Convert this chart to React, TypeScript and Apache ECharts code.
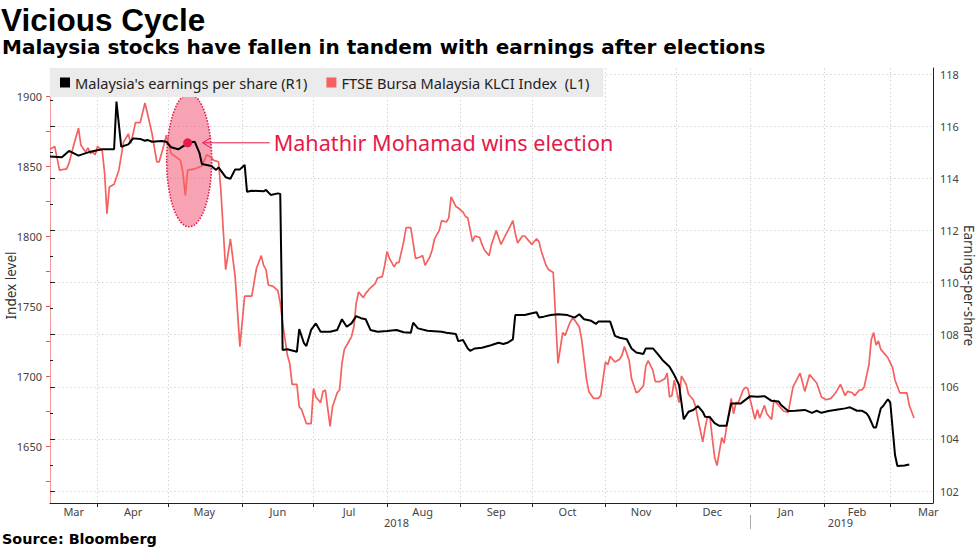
import React, { useEffect, useRef } from 'react';
import * as echarts from 'echarts';

// ---------- data ----------
const epsName = "Malaysia's earnings per share (R1)";
const klciName = 'FTSE Bursa Malaysia KLCI Index  (L1)';

const epsDates = [
  '2018-03-12','2018-03-17','2018-03-20','2018-03-24','2018-03-29','2018-04-03','2018-04-08','2018-04-09','2018-04-11','2018-04-14',
  '2018-04-16','2018-04-19','2018-04-21','2018-04-22','2018-04-24','2018-04-28','2018-04-30','2018-05-02','2018-05-05','2018-05-08',
  '2018-05-09','2018-05-12','2018-05-14','2018-05-15','2018-05-19','2018-05-21','2018-05-22','2018-05-25','2018-05-27','2018-05-29',
  '2018-05-31','2018-06-02','2018-06-03','2018-06-05','2018-06-10','2018-06-11','2018-06-13','2018-06-16','2018-06-17','2018-06-18',
  '2018-06-20','2018-06-24','2018-06-25','2018-06-27','2018-06-28','2018-06-30','2018-07-02','2018-07-04','2018-07-08','2018-07-11',
  '2018-07-13','2018-07-15','2018-07-17','2018-07-19','2018-07-21','2018-07-23','2018-07-25','2018-07-28','2018-08-01','2018-08-05',
  '2018-08-08','2018-08-11','2018-08-12','2018-08-14','2018-08-18','2018-08-24','2018-08-26','2018-08-30','2018-08-31','2018-09-02',
  '2018-09-04','2018-09-05','2018-09-07','2018-09-10','2018-09-13','2018-09-15','2018-09-17','2018-09-19','2018-09-21','2018-09-23',
  '2018-09-24','2018-09-28','2018-10-01','2018-10-03','2018-10-04','2018-10-06','2018-10-09','2018-10-12','2018-10-16','2018-10-19',
  '2018-10-21','2018-10-23','2018-10-26','2018-10-28','2018-10-29','2018-11-03','2018-11-05','2018-11-07','2018-11-10','2018-11-12',
  '2018-11-14','2018-11-17','2018-11-18','2018-11-21','2018-11-23','2018-11-25','2018-11-28','2018-11-30','2018-12-02','2018-12-04',
  '2018-12-06','2018-12-08','2018-12-10','2018-12-12','2018-12-13','2018-12-15','2018-12-17','2018-12-19','2018-12-22','2018-12-24',
  '2018-12-28','2018-12-29','2019-01-01','2019-01-04','2019-01-07','2019-01-10','2019-01-13','2019-01-14','2019-01-17','2019-01-20',
  '2019-01-24','2019-01-27','2019-01-29','2019-01-31','2019-02-03','2019-02-07','2019-02-10','2019-02-12','2019-02-15','2019-02-17',
  '2019-02-19','2019-02-20','2019-02-22','2019-02-23','2019-02-25','2019-02-26','2019-02-28','2019-03-01','2019-03-03','2019-03-04',
  '2019-03-07','2019-03-09',
];
const epsValues = [
  114.83,114.81,115.05,114.87,115.02,115.11,115.11,116.94,115.21,115.30,
  115.53,115.51,115.44,115.47,115.40,115.43,115.40,115.19,115.11,115.28,
  115.36,115.40,114.96,114.55,114.47,114.32,114.42,114.04,113.98,114.34,
  114.34,114.51,113.48,113.52,113.50,113.55,113.36,113.42,113.40,107.41,
  107.44,107.34,108.21,107.67,107.56,108.18,108.43,108.11,108.11,108.18,
  108.59,108.30,108.43,108.71,108.63,108.59,108.18,108.11,108.14,108.18,
  108.09,108.07,108.46,108.24,108.15,108.11,108.07,108.02,107.75,107.79,
  107.47,107.38,107.47,107.50,107.57,107.63,107.69,107.64,107.70,107.82,
  108.75,108.75,108.82,108.86,108.66,108.69,108.75,108.78,108.75,108.65,
  108.78,108.59,108.53,108.41,108.50,108.50,107.95,107.88,107.82,107.47,
  107.31,107.26,107.47,107.47,107.26,107.03,106.77,106.45,106.07,104.75,
  105.04,105.11,105.26,105.04,104.85,104.83,104.60,104.50,104.50,105.36,
  105.36,105.43,105.64,105.62,105.64,105.46,105.43,105.30,105.07,105.08,
  105.11,105.00,105.08,105.00,105.07,105.13,105.17,105.21,105.08,105.08,
  104.98,104.85,104.44,104.44,105.17,105.26,105.52,105.39,103.38,102.96,
  102.98,103.02,
];

const klciDates = [
  '2018-03-12','2018-03-14','2018-03-16','2018-03-19','2018-03-20','2018-03-22','2018-03-24','2018-03-25','2018-03-27','2018-03-28',
  '2018-03-29','2018-03-30','2018-03-31','2018-04-01','2018-04-03','2018-04-04','2018-04-05','2018-04-06','2018-04-08','2018-04-10',
  '2018-04-11','2018-04-12','2018-04-14','2018-04-15','2018-04-16','2018-04-17','2018-04-19','2018-04-21','2018-04-22','2018-04-24',
  '2018-04-26','2018-04-27','2018-04-29','2018-04-30','2018-05-02','2018-05-06','2018-05-07','2018-05-08','2018-05-09','2018-05-12',
  '2018-05-15','2018-05-17','2018-05-19','2018-05-20','2018-05-22','2018-05-23','2018-05-24','2018-05-25','2018-05-27','2018-05-29',
  '2018-05-31','2018-06-02','2018-06-05','2018-06-07','2018-06-09','2018-06-10','2018-06-11','2018-06-12','2018-06-14','2018-06-16',
  '2018-06-17','2018-06-18','2018-06-20','2018-06-21','2018-06-22','2018-06-24','2018-06-25','2018-06-26','2018-06-28','2018-06-30',
  '2018-07-01','2018-07-02','2018-07-04','2018-07-05','2018-07-06','2018-07-08','2018-07-09','2018-07-11','2018-07-12','2018-07-13',
  '2018-07-14','2018-07-16','2018-07-17','2018-07-18','2018-07-19','2018-07-20','2018-07-22','2018-07-23','2018-07-25','2018-07-27',
  '2018-07-28','2018-07-30','2018-07-31','2018-08-01','2018-08-02','2018-08-04','2018-08-05','2018-08-06','2018-08-08','2018-08-09',
  '2018-08-11','2018-08-13','2018-08-15','2018-08-16','2018-08-17','2018-08-19','2018-08-20','2018-08-21','2018-08-23','2018-08-24',
  '2018-08-26','2018-08-27','2018-08-28','2018-08-30','2018-08-31','2018-09-02','2018-09-03','2018-09-04','2018-09-06','2018-09-07',
  '2018-09-09','2018-09-10','2018-09-11','2018-09-13','2018-09-14','2018-09-16','2018-09-17','2018-09-18','2018-09-20','2018-09-21',
  '2018-09-23','2018-09-24','2018-09-25','2018-09-27','2018-09-28','2018-09-30','2018-10-01','2018-10-03','2018-10-04','2018-10-05',
  '2018-10-07','2018-10-08','2018-10-10','2018-10-11','2018-10-12','2018-10-14','2018-10-15','2018-10-17','2018-10-18','2018-10-19',
  '2018-10-21','2018-10-22','2018-10-24','2018-10-25','2018-10-27','2018-10-29','2018-10-30','2018-11-01','2018-11-02','2018-11-03',
  '2018-11-05','2018-11-07','2018-11-08','2018-11-09','2018-11-11','2018-11-12','2018-11-14','2018-11-15','2018-11-17','2018-11-18',
  '2018-11-19','2018-11-21','2018-11-22','2018-11-24','2018-11-26','2018-11-27','2018-11-28','2018-11-29','2018-11-30','2018-12-02',
  '2018-12-03','2018-12-05','2018-12-06','2018-12-08','2018-12-09','2018-12-10','2018-12-12','2018-12-13','2018-12-14','2018-12-15',
  '2018-12-16','2018-12-17','2018-12-18','2018-12-20','2018-12-21','2018-12-22','2018-12-24','2018-12-25','2018-12-26','2018-12-27',
  '2018-12-29','2018-12-30','2018-12-31','2019-01-01','2019-01-03','2019-01-04','2019-01-05','2019-01-07','2019-01-08','2019-01-10',
  '2019-01-11','2019-01-12','2019-01-14','2019-01-15','2019-01-17','2019-01-19','2019-01-22','2019-01-24','2019-01-26','2019-01-29',
  '2019-01-31','2019-02-02','2019-02-04','2019-02-06','2019-02-08','2019-02-10','2019-02-11','2019-02-13','2019-02-14','2019-02-16',
  '2019-02-17','2019-02-18','2019-02-20','2019-02-21','2019-02-22','2019-02-23','2019-02-24','2019-02-25','2019-02-28','2019-03-02',
  '2019-03-03','2019-03-05','2019-03-08','2019-03-09','2019-03-11',
];
const klciValues = [
  1862,1864,1847,1848,1852,1865,1877,1865,1860,1863,
  1859,1860,1858,1864,1861,1845,1816,1835,1837,1847,
  1857,1867,1873,1866,1873,1881,1881,1895,1888,1873,
  1853,1853,1865,1872,1859,1854,1845,1829,1847,1848,
  1850,1858,1856,1854,1853,1832,1804,1776,1798,1771,
  1721,1757,1757,1777,1786,1779,1776,1765,1764,1761,
  1752,1738,1715,1709,1694,1694,1678,1676,1666,1666,
  1691,1685,1681,1689,1690,1664,1678,1688,1690,1709,
  1719,1725,1728,1735,1752,1760,1756,1759,1763,1766,
  1770,1771,1779,1789,1784,1778,1781,1781,1796,1806,
  1806,1784,1785,1786,1779,1785,1790,1798,1804,1811,
  1810,1813,1828,1821,1820,1817,1814,1813,1796,1800,
  1799,1794,1790,1786,1794,1804,1799,1794,1801,1804,
  1811,1802,1795,1800,1800,1796,1794,1798,1796,1789,
  1779,1776,1774,1742,1709,1731,1729,1738,1741,1740,
  1735,1726,1698,1689,1684,1684,1686,1710,1708,1714,
  1710,1712,1715,1721,1711,1698,1688,1689,1693,1707,
  1711,1704,1696,1696,1698,1702,1685,1686,1697,1681,
  1700,1694,1687,1683,1678,1669,1653,1663,1671,1671,
  1656,1642,1636,1656,1652,1663,1684,1673,1681,1681,
  1690,1692,1691,1683,1669,1676,1670,1679,1673,1669,
  1683,1681,1677,1675,1674,1692,1702,1689,1701,1695,
  1685,1683,1684,1688,1694,1686,1689,1688,1686,1690,
  1690,1692,1708,1726,1731,1722,1725,1719,1713,1706,
  1697,1688,1688,1679,1670,
];

// axis domain and tick labels
const firstDay = '2018-03-12';
const lastDay = '2019-03-19';
const monthLabelDates = ['2018-03-22','2018-04-16','2018-05-16','2018-06-16','2018-07-16','2018-08-16','2018-09-16','2018-10-16','2018-11-16','2018-12-16','2019-01-16','2019-02-15','2019-03-17'];
const monthLabels = ['Mar','Apr','May','Jun','Jul','Aug','Sep','Oct','Nov','Dec','Jan','Feb','Mar'];
const yearLabelDates = ['2018-08-05','2019-02-08'];
const yearLabels = ['2018','2019'];
const yearBreakDate = '2019-01-01';
const leftTickValues = { min: 1625, max: 1900, step: 25, labelStep: 50 };
const rightTickValues = { min: 102, max: 118, step: 2 };

const electionDate = '2018-05-09';
const electionEps = 115.36;
const annotationText = 'Mahathir Mohamad wins election';

function buildDays(a: string, b: string): string[] {
  const out: string[] = [];
  let t = Date.parse(a + 'T00:00:00Z');
  const e = Date.parse(b + 'T00:00:00Z');
  while (t <= e) {
    out.push(new Date(t).toISOString().slice(0, 10));
    t += 86400000;
  }
  return out;
}
const days = buildDays(firstDay, lastDay);

// ---------- layout ----------
const W = 977;
const H = 549;
const PLOT_L = 50;
const PLOT_R = 933;
const PLOT_T = 68;
const PLOT_B = 503;
// pixel rows of the labelled ticks
const Y_1900 = 96, Y_1625 = 481;
const Y_118 = 74, Y_102 = 491;
const leftPxPerUnit = (Y_1625 - Y_1900) / (leftTickValues.max - leftTickValues.min);
const rightPxPerUnit = (Y_102 - Y_118) / (rightTickValues.max - rightTickValues.min);
const leftMin = leftTickValues.min - (PLOT_B - Y_1625) / leftPxPerUnit;
const leftMax = leftTickValues.max + (Y_1900 - PLOT_T) / leftPxPerUnit;
const rightMin = rightTickValues.min - (PLOT_B - Y_102) / rightPxPerUnit;
const rightMax = rightTickValues.max + (Y_118 - PLOT_T) / rightPxPerUnit;

const SANS = 'Noto Sans';
const BOLD = 'DejaVu Sans';
const RED = '#f4615f';
const ANNO = '#e5194a';
const GRID_LINE = '#d4d4d4';

export default function App() {
  const ref = useRef<HTMLDivElement>(null);
  useEffect(() => {
    const el = ref.current;
    if (!el) return;
    const chart = echarts.init(el, null, { renderer: 'svg' });
    const labelSet = new Set(monthLabelDates);
    const yearSet = new Set(yearLabelDates);
    const gridPos = { left: PLOT_L, right: W - PLOT_R, containLabel: false, outerBoundsMode: 'none' };
    const option: any = {
      animation: false,
      backgroundColor: '#fff',
      title: [
        { text: 'Vicious Cycle', left: 1, top: 4, padding: 0, textStyle: { fontFamily: 'Liberation Sans', fontWeight: 'bold', fontSize: 31.5, color: '#000' } },
        { text: 'Malaysia stocks have fallen in tandem with earnings after elections', left: 2, top: 37, padding: 0, textStyle: { fontFamily: BOLD, fontWeight: 'bold', fontSize: 20, color: '#000' } },
        { text: 'Source: Bloomberg', left: 2, top: 532, padding: 0, textStyle: { fontFamily: BOLD, fontWeight: 'bold', fontSize: 14.4, color: '#000' } },
      ],
      legend: {
        left: PLOT_L, top: PLOT_T,
        data: [epsName, klciName],
        icon: 'rect', itemWidth: 10, itemHeight: 10, itemGap: 19,
        backgroundColor: '#ebebeb',
        padding: [7, 14, 7, 10],
        textStyle: { fontFamily: SANS, fontSize: 14.6, color: '#222' },
        selectedMode: false,
      },
      grid: [
        { ...gridPos, top: PLOT_T, bottom: H - PLOT_B },
        { ...gridPos, top: Y_1900, bottom: H - Y_1625 },
        { ...gridPos, top: Y_118, bottom: H - Y_102 },
      ],
      xAxis: [
        {
          type: 'category', gridIndex: 0, data: days, boundaryGap: false, position: 'bottom',
          axisLine: { show: true, lineStyle: { color: '#222', width: 1 } },
          axisTick: { show: true, interval: (_i: number, v: string) => v.slice(8) === '01', length: 4, lineStyle: { color: '#222' } },
          axisLabel: {
            interval: (_i: number, v: string) => labelSet.has(v),
            formatter: (v: string) => monthLabels[monthLabelDates.indexOf(v)] ?? '',
            fontFamily: SANS, fontSize: 11, color: '#444', margin: 3,
          },
          splitLine: { show: true, interval: (_i: number, v: string) => v.slice(8) === '01', lineStyle: { color: GRID_LINE, type: [1.5, 2.5] } },
        },
        {
          type: 'category', gridIndex: 0, data: days, boundaryGap: false, position: 'bottom', offset: 12,
          axisLine: { show: false },
          axisTick: { show: true, interval: (_i: number, v: string) => v === yearBreakDate, length: 14, lineStyle: { color: '#aaa' } },
          axisLabel: {
            interval: (_i: number, v: string) => yearSet.has(v),
            formatter: (v: string) => yearLabels[yearLabelDates.indexOf(v)] ?? '',
            fontFamily: SANS, fontSize: 11, color: '#444', margin: 2,
          },
          splitLine: { show: false },
        },
        { type: 'value', gridIndex: 1, min: 0, max: 1, show: false },
        { type: 'value', gridIndex: 2, min: 0, max: 1, show: false },
      ],
      yAxis: [
        {
          type: 'value', gridIndex: 0, position: 'left', min: leftMin, max: leftMax,
          name: 'Index level', nameLocation: 'middle', nameRotate: 90, nameGap: 32,
          nameTextStyle: { fontFamily: SANS, fontSize: 13.5, color: '#333' },
          axisLine: { show: true, lineStyle: { color: '#f29a9a', width: 1 } },
          axisTick: { show: false }, axisLabel: { show: false }, splitLine: { show: false },
        },
        {
          type: 'value', gridIndex: 0, position: 'right', min: rightMin, max: rightMax,
          name: 'Earnings-per-share', nameLocation: 'middle', nameRotate: -90, nameGap: 29,
          nameTextStyle: { fontFamily: SANS, fontSize: 13.5, color: '#333' },
          axisLine: { show: true, lineStyle: { color: '#222', width: 1 } },
          axisTick: { show: false }, axisLabel: { show: false }, splitLine: { show: false },
        },
        {
          type: 'value', gridIndex: 1, position: 'left',
          min: leftTickValues.min, max: leftTickValues.max, interval: leftTickValues.step,
          axisLine: { show: false },
          axisTick: { show: true, length: 4, lineStyle: { color: '#f0504f' } },
          axisLabel: {
            formatter: (v: number) => (v % leftTickValues.labelStep === 0 ? String(v) : ''),
            fontFamily: SANS, fontSize: 11, color: '#444', margin: 8,
          },
          splitLine: { show: false },
        },
        {
          type: 'value', gridIndex: 2, position: 'right',
          min: rightTickValues.min, max: rightTickValues.max, interval: rightTickValues.step,
          axisLine: { show: false },
          axisTick: { show: true, length: 5, lineStyle: { color: '#222' } },
          minorTick: { show: true, splitNumber: 2, length: 3, lineStyle: { color: '#222' } },
          axisLabel: { fontFamily: SANS, fontSize: 11, color: '#444', margin: 7 },
          splitLine: { show: true, lineStyle: { color: GRID_LINE, type: [1.5, 2.5] } },
        },
      ],
      series: [
        {
          name: klciName, type: 'line', xAxisIndex: 0, yAxisIndex: 0,
          data: klciDates.map((d, i) => [d, klciValues[i]]),
          symbol: 'none', showSymbol: false,
          lineStyle: { color: RED, width: 1.7 }, itemStyle: { color: RED }, z: 3,
        },
        {
          name: epsName, type: 'line', xAxisIndex: 0, yAxisIndex: 1,
          data: epsDates.map((d, i) => [d, epsValues[i]]),
          symbol: 'none', showSymbol: false,
          lineStyle: { color: '#000', width: 2 }, itemStyle: { color: '#000' }, z: 4,
        },
      ],
    };
    chart.setOption(option);

    const p = chart.convertToPixel({ xAxisIndex: 0, yAxisIndex: 1 } as any, [days.indexOf(electionDate), electionEps]) as number[];
    if (p && isFinite(p[0]) && isFinite(p[1])) {
      const [px, py] = p;
      chart.setOption({
        graphic: [
          { type: 'ellipse', z: 1, shape: { cx: px + 1.5, cy: py + 17.5, rx: 22.5, ry: 66.5 }, style: { fill: 'rgba(242, 72, 104, 0.5)', stroke: ANNO, lineWidth: 1.6, lineDash: [1.5, 1.5] } },
          { type: 'circle', z: 10, shape: { cx: px, cy: py, r: 4.5 }, style: { fill: ANNO } },
          { type: 'line', z: 10, shape: { x1: px + 15, y1: py, x2: px + 82, y2: py }, style: { stroke: ANNO, lineWidth: 1 } },
          { type: 'polyline', z: 10, shape: { points: [[px + 23, py - 5], [px + 15, py], [px + 23, py + 5]] }, style: { stroke: ANNO, lineWidth: 1, fill: 'none' } },
          { type: 'text', z: 10, x: px + 86, y: py, style: { text: annotationText, font: `21.6px "${SANS}"`, fill: ANNO, verticalAlign: 'middle', align: 'left' } },
        ],
      });
    }
    return () => chart.dispose();
  }, []);
  return <div ref={ref} style={{ position: 'fixed', left: 0, top: 0, width: W, height: H }} />;
}
